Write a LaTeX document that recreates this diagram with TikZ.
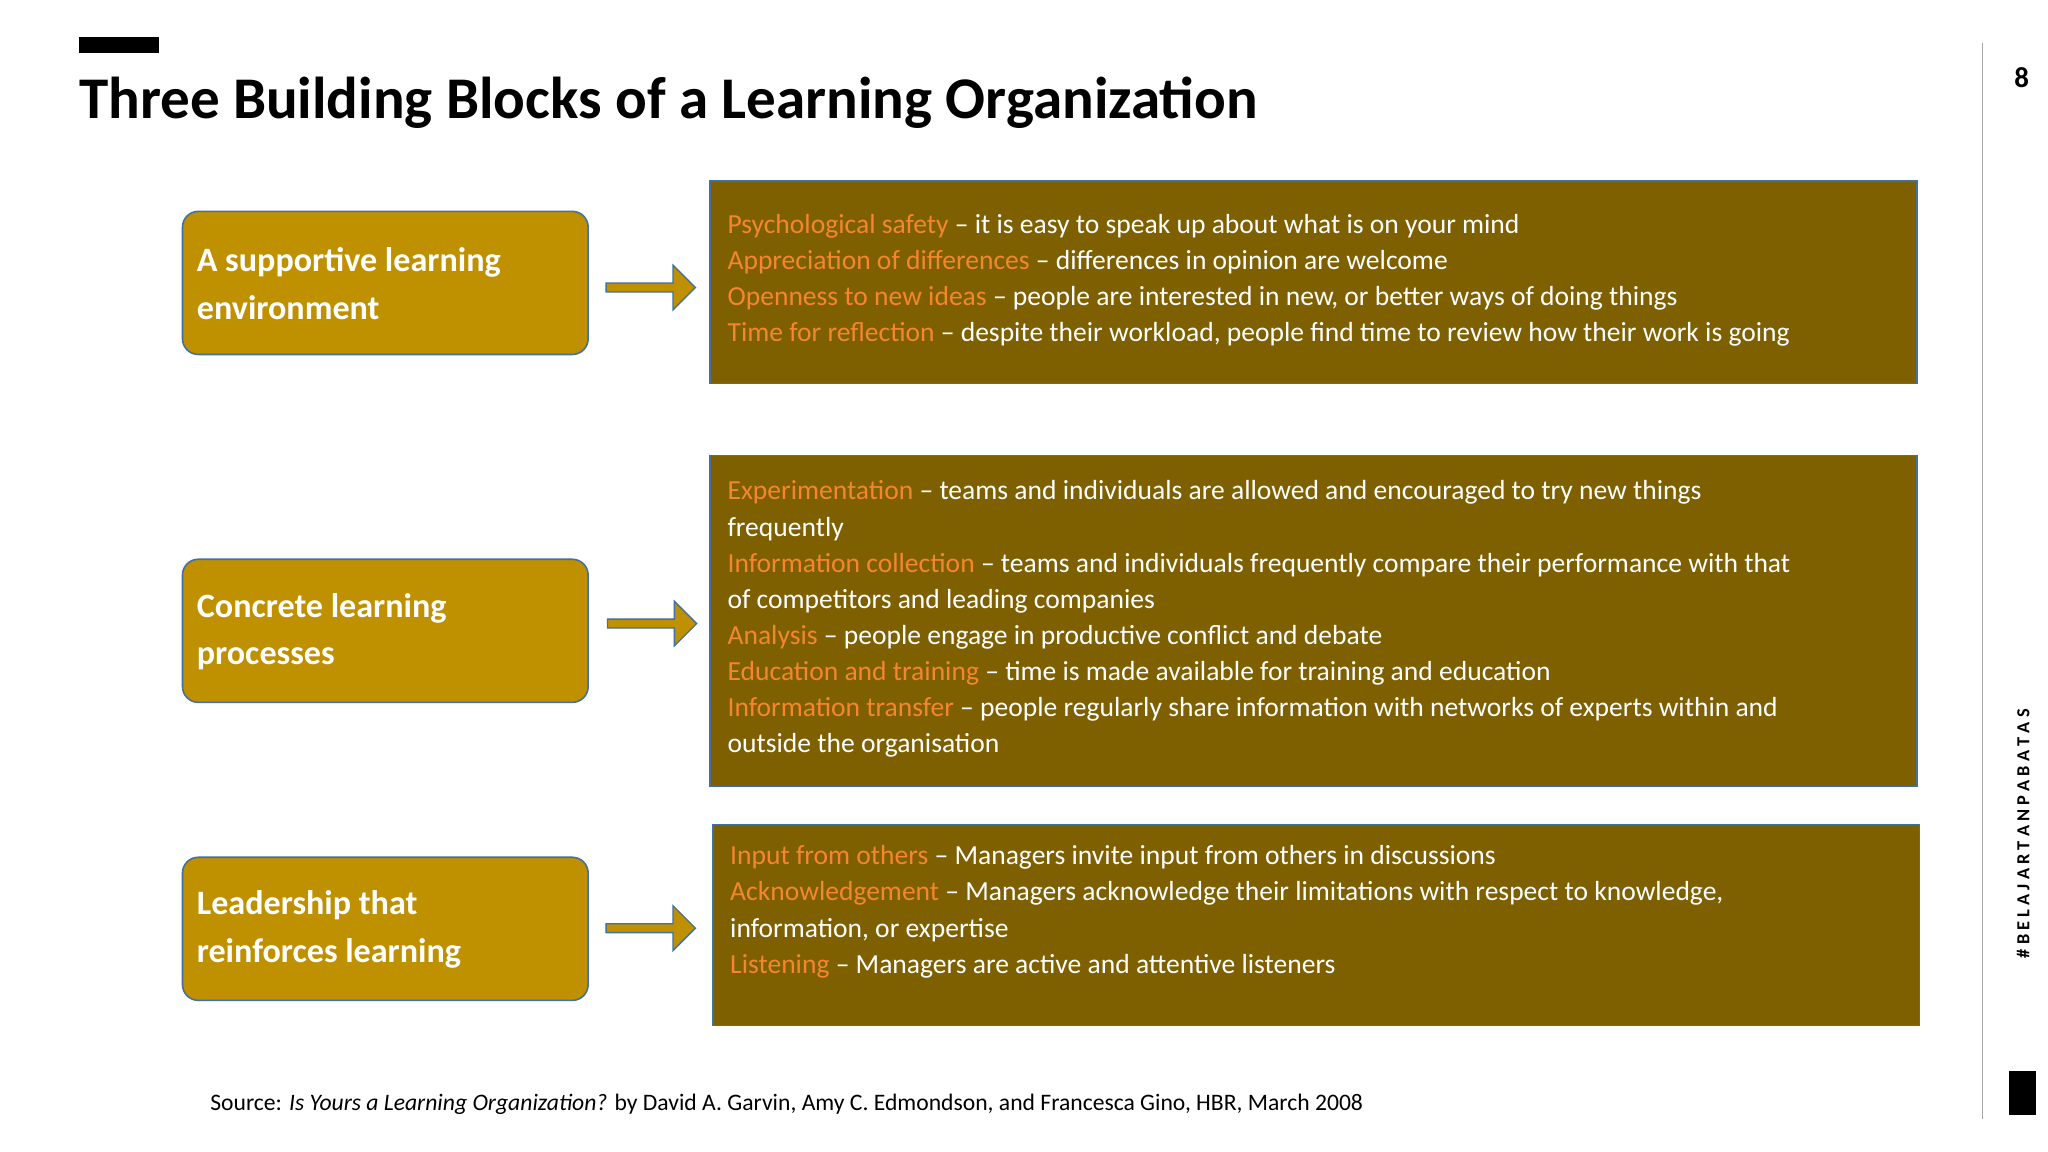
\documentclass[tikz,border=0pt]{standalone}
\usepackage{fontspec}
\setmainfont{Carlito}
\usetikzlibrary{shapes.arrows}
\definecolor{gold}{HTML}{BF9000}
\definecolor{dgold}{HTML}{7F6000}
\definecolor{edge}{HTML}{41719C}
\definecolor{hl}{HTML}{F4862B}
\definecolor{ybar}{HTML}{F5C431}
\newcommand{\hk}[1]{\textcolor{hl}{#1}}
\begin{document}
\begin{tikzpicture}[x=1pt,y=-1pt,
  leftbox/.style={draw=edge,line width=1.2pt,fill=gold,rounded corners=12pt,text=white,font=\fontsize{26}{36}\selectfont\bfseries,align=left,anchor=west},
  rightbox/.style={draw=edge,line width=1.2pt,fill=dgold},
  bodytext/.style={text=white,font=\fontsize{21}{27.5}\selectfont,align=left,anchor=north west,inner sep=0pt},
  arr/.style={single arrow,draw=edge,line width=1pt,fill=gold,minimum height=68pt,minimum width=34pt,single arrow head extend=10pt,inner sep=2pt}]
\useasboundingbox (0,0) rectangle (1560,877.5);
\fill[white] (0,0) rectangle (1560,877.5);
\fill[ybar] (60,28) rectangle (121,40);
\node[anchor=base west,inner sep=0pt,font=\fontsize{45}{50}\selectfont\bfseries] (title) at (60,90) {Three Building Blocks of a Learning Organization};
\draw[gray!70,line width=1pt] (1510,33) -- (1510,852);
\node[font=\fontsize{22}{24}\selectfont\bfseries] (pg) at (1540,59) {8};
\fill[ybar] (1530,816) rectangle (1551,849);
\node[rotate=90,font=\fontsize{14}{16}\selectfont\bfseries] (tag) at (1541,635) {\# B E L A J A R T A N P A B A T A S};
% left boxes
\draw[leftbox] (139,161) rectangle (448,270);
\node[leftbox,draw=none,fill=none] (l1) at (146,216) {A supportive learning\\environment};
\draw[leftbox] (139,426) rectangle (448,535);
\node[leftbox,draw=none,fill=none] (l2) at (146,481) {Concrete learning\\processes};
\draw[leftbox] (139,653) rectangle (448,762);
\node[leftbox,draw=none,fill=none] (l3) at (146,708) {Leadership that\\reinforces learning};
% arrows
\node[arr] (a1) at (494,219) {};
\node[arr] (a2) at (495,475) {};
\node[arr] (a3) at (494,707) {};
% right boxes
\draw[rightbox] (541,138) rectangle (1460,292);
\node[bodytext] (r1) at (554,163) {\hk{Psychological safety} -- it is easy to speak up about what is on your mind\\
\hk{Appreciation of differences} -- differences in opinion are welcome\\
\hk{Openness to new ideas} -- people are interested in new, or better ways of doing things\\
\hk{Time for reflection} -- despite their workload, people find time to review how their work is going};
\draw[rightbox] (541,347) rectangle (1460,599);
\node[bodytext] (r2) at (554,366) {\hk{Experimentation} -- teams and individuals are allowed and encouraged to try new things\\
frequently\\
\hk{Information collection} -- teams and individuals frequently compare their performance with that\\
of competitors and leading companies\\
\hk{Analysis} -- people engage in productive conflict and debate\\
\hk{Education and training} -- time is made available for training and education\\
\hk{Information transfer} -- people regularly share information with networks of experts within and\\
outside the organisation};
\draw[rightbox] (543,628) rectangle (1462,781);
\node[bodytext] (r3) at (556,644) {\hk{Input from others} -- Managers invite input from others in discussions\\
\hk{Acknowledgement} -- Managers acknowledge their limitations with respect to knowledge,\\
information, or expertise\\
\hk{Listening} -- Managers are active and attentive listeners};
\node[anchor=base west,inner sep=0pt,font=\fontsize{18}{22}\selectfont] (src) at (160,846) {Source: \textit{Is Yours a Learning Organization?} by David A. Garvin, Amy C. Edmondson, and Francesca Gino, HBR, March 2008};
\end{tikzpicture}
\end{document}
